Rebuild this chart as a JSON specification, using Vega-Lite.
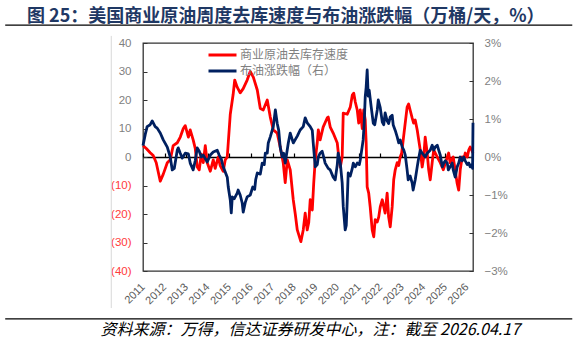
{
  "$schema": "https://vega.github.io/schema/vega-lite/v6.json",
  "width": 330,
  "height": 228,
  "autosize": {"type": "none"},
  "padding": {"left": 143, "top": 43, "right": 104, "bottom": 71},
  "background": "white",
  "config": {
    "view": {"stroke": "#333333", "strokeWidth": 1.3},
    "font": "Liberation Sans",
    "axis": {"grid": false}
  },
  "title": {
    "text": "图 25：美国商业原油周度去库速度与布油涨跌幅（万桶/天，%）",
    "anchor": "start",
    "frame": "group",
    "dx": -116,
    "offset": -2,
    "font": "Noto Sans CJK SC",
    "fontSize": 18,
    "fontWeight": "bold",
    "color": "#1f3864"
  },
  "datasets": {
    "stock": [
      {"date": "2011-01-01", "v": 4}, {"date": "2011-02-26", "v": 3}, {"date": "2011-05-03", "v": 1.5}, {"date": "2011-06-23", "v": 0.5},
      {"date": "2011-08-13", "v": -2}, {"date": "2011-10-20", "v": -8.5}, {"date": "2011-12-10", "v": -6}, {"date": "2012-02-16", "v": -2},
      {"date": "2012-04-06", "v": -1}, {"date": "2012-05-26", "v": 4}, {"date": "2012-08-03", "v": 5}, {"date": "2012-09-23", "v": 7},
      {"date": "2012-11-13", "v": 10}, {"date": "2012-12-16", "v": 11}, {"date": "2013-02-07", "v": 7}, {"date": "2013-03-10", "v": 9.5},
      {"date": "2013-04-29", "v": 6}, {"date": "2013-06-03", "v": 3}, {"date": "2013-07-07", "v": -3.5}, {"date": "2013-08-10", "v": -4.5},
      {"date": "2013-09-13", "v": 1}, {"date": "2013-10-17", "v": -2}, {"date": "2013-11-20", "v": 4}, {"date": "2013-12-23", "v": -2},
      {"date": "2014-02-13", "v": -5}, {"date": "2014-04-04", "v": -1}, {"date": "2014-05-07", "v": -4}, {"date": "2014-06-27", "v": 0},
      {"date": "2014-07-30", "v": -3}, {"date": "2014-09-20", "v": -5}, {"date": "2014-10-24", "v": -1}, {"date": "2014-11-27", "v": 0},
      {"date": "2015-01-17", "v": 15}, {"date": "2015-03-07", "v": 22}, {"date": "2015-04-02", "v": 27}, {"date": "2015-05-14", "v": 24.5},
      {"date": "2015-07-04", "v": 22.5}, {"date": "2015-08-24", "v": 24}, {"date": "2015-10-30", "v": 27}, {"date": "2015-12-21", "v": 30},
      {"date": "2016-02-11", "v": 28}, {"date": "2016-04-18", "v": 23.5}, {"date": "2016-06-08", "v": 17}, {"date": "2016-07-28", "v": 16.5},
      {"date": "2016-10-04", "v": 20}, {"date": "2016-11-24", "v": 14}, {"date": "2017-01-14", "v": 9.5}, {"date": "2017-03-21", "v": 8.4},
      {"date": "2017-05-11", "v": 3.5}, {"date": "2017-07-01", "v": -2}, {"date": "2017-08-04", "v": -9}, {"date": "2017-09-08", "v": -1},
      {"date": "2017-10-28", "v": -4.5}, {"date": "2017-12-18", "v": -15}, {"date": "2018-01-21", "v": -20}, {"date": "2018-02-24", "v": -25.6},
      {"date": "2018-04-26", "v": -29.7}, {"date": "2018-06-05", "v": -25.6}, {"date": "2018-07-08", "v": -19.7}, {"date": "2018-08-11", "v": -25.6},
      {"date": "2018-09-06", "v": -23}, {"date": "2018-10-01", "v": -15}, {"date": "2018-11-05", "v": -18.6}, {"date": "2018-11-29", "v": -9.3},
      {"date": "2018-12-25", "v": -1}, {"date": "2019-01-28", "v": 5}, {"date": "2019-02-15", "v": 9.5}, {"date": "2019-03-18", "v": 6},
      {"date": "2019-05-08", "v": 10.5}, {"date": "2019-07-15", "v": 13.7}, {"date": "2019-08-02", "v": 14}, {"date": "2019-09-05", "v": 10.5},
      {"date": "2019-10-25", "v": 8.4}, {"date": "2020-01-02", "v": 4.9}, {"date": "2020-01-27", "v": 0}, {"date": "2020-02-22", "v": -3.5},
      {"date": "2020-03-25", "v": 0}, {"date": "2020-04-12", "v": 15.4}, {"date": "2020-06-19", "v": 15}, {"date": "2020-08-09", "v": 17.5},
      {"date": "2020-09-12", "v": 21.7}, {"date": "2020-10-07", "v": 22.4}, {"date": "2020-11-02", "v": 19.3}, {"date": "2020-12-05", "v": 16.5},
      {"date": "2020-12-30", "v": 11.9}, {"date": "2021-01-25", "v": 16.5}, {"date": "2021-02-28", "v": 10}, {"date": "2021-03-24", "v": 16.5},
      {"date": "2021-04-19", "v": 13}, {"date": "2021-05-05", "v": 5}, {"date": "2021-05-22", "v": -10.5}, {"date": "2021-06-17", "v": -12.7},
      {"date": "2021-07-12", "v": -17.5}, {"date": "2021-08-15", "v": -25.6}, {"date": "2021-09-10", "v": -28}, {"date": "2021-10-05", "v": -22},
      {"date": "2021-11-09", "v": -22.8}, {"date": "2021-12-04", "v": -21}, {"date": "2021-12-29", "v": -17.5}, {"date": "2022-02-02", "v": -15},
      {"date": "2022-02-27", "v": -17.5}, {"date": "2022-03-22", "v": -19.7}, {"date": "2022-04-25", "v": -12.7}, {"date": "2022-05-20", "v": -21},
      {"date": "2022-06-16", "v": -24.5}, {"date": "2022-07-19", "v": -17.5}, {"date": "2022-08-14", "v": -8}, {"date": "2022-09-09", "v": -4.5},
      {"date": "2022-10-12", "v": -2}, {"date": "2022-11-07", "v": -3}, {"date": "2022-12-02", "v": 0}, {"date": "2022-12-27", "v": 1.4},
      {"date": "2023-01-22", "v": 6}, {"date": "2023-03-29", "v": 17.5}, {"date": "2023-04-24", "v": 18.6}, {"date": "2023-05-19", "v": 16.5},
      {"date": "2023-06-22", "v": 13.7}, {"date": "2023-07-17", "v": 11.9}, {"date": "2023-08-13", "v": 13}, {"date": "2023-09-16", "v": 9.5},
      {"date": "2023-10-11", "v": 6}, {"date": "2023-11-06", "v": 2.5}, {"date": "2023-12-09", "v": -3.5}, {"date": "2024-01-04", "v": 0},
      {"date": "2024-01-29", "v": 7}, {"date": "2024-03-03", "v": 1.4}, {"date": "2024-03-28", "v": -4.5}, {"date": "2024-04-23", "v": -8},
      {"date": "2024-05-26", "v": -2}, {"date": "2024-06-21", "v": 2.5}, {"date": "2024-08-20", "v": 0}, {"date": "2024-10-10", "v": -2},
      {"date": "2024-11-30", "v": -4.5}, {"date": "2025-02-06", "v": 0}, {"date": "2025-03-01", "v": 1.4}, {"date": "2025-03-26", "v": -2},
      {"date": "2025-05-17", "v": 0}, {"date": "2025-07-23", "v": -9.3}, {"date": "2025-08-18", "v": -11.6}, {"date": "2025-09-13", "v": -4.5},
      {"date": "2025-10-16", "v": 0}, {"date": "2025-11-11", "v": -1}, {"date": "2025-12-07", "v": 1.4}, {"date": "2026-01-10", "v": 0},
      {"date": "2026-02-05", "v": 2.5}, {"date": "2026-02-28", "v": 3.5}, {"date": "2026-04-17", "v": 1.4}
    ],
    "brent": [
      {"date": "2011-01-01", "v": 0.3}, {"date": "2011-02-09", "v": 0.6}, {"date": "2011-03-12", "v": 0.8}, {"date": "2011-05-03", "v": 0.85},
      {"date": "2011-06-06", "v": 0.95}, {"date": "2011-07-26", "v": 0.8}, {"date": "2011-08-29", "v": 0.76}, {"date": "2011-10-20", "v": 0.63},
      {"date": "2011-12-10", "v": 0.45}, {"date": "2012-02-16", "v": 0.26}, {"date": "2012-04-06", "v": 0}, {"date": "2012-05-10", "v": -0.34},
      {"date": "2012-06-13", "v": -0.3}, {"date": "2012-08-03", "v": 0.18}, {"date": "2012-08-20", "v": 0.24}, {"date": "2012-09-23", "v": 0.1},
      {"date": "2012-10-27", "v": -0.03}, {"date": "2012-12-16", "v": 0.1}, {"date": "2013-02-07", "v": 0.08}, {"date": "2013-03-10", "v": -0.16},
      {"date": "2013-04-29", "v": -0.34}, {"date": "2013-06-03", "v": -0.1}, {"date": "2013-07-07", "v": 0.24}, {"date": "2013-08-10", "v": 0.15},
      {"date": "2013-09-13", "v": 0}, {"date": "2013-10-17", "v": 0.05}, {"date": "2013-12-23", "v": -0.13}, {"date": "2014-02-13", "v": 0.05},
      {"date": "2014-04-04", "v": 0.13}, {"date": "2014-06-10", "v": 0.18}, {"date": "2014-07-13", "v": 0.05}, {"date": "2014-08-17", "v": -0.05},
      {"date": "2014-09-20", "v": -0.26}, {"date": "2014-11-27", "v": -0.53}, {"date": "2014-12-14", "v": -0.79}, {"date": "2015-01-17", "v": -1.13},
      {"date": "2015-02-03", "v": -1.47}, {"date": "2015-02-20", "v": -1.05}, {"date": "2015-03-24", "v": -1.1}, {"date": "2015-05-14", "v": -0.95},
      {"date": "2015-05-30", "v": -0.87}, {"date": "2015-07-04", "v": -1.0}, {"date": "2015-08-07", "v": -1.21}, {"date": "2015-08-24", "v": -1.45},
      {"date": "2015-09-27", "v": -1.2}, {"date": "2015-10-30", "v": -1.05}, {"date": "2015-12-21", "v": -1.0}, {"date": "2016-02-02", "v": -0.79},
      {"date": "2016-03-05", "v": -0.85}, {"date": "2016-03-22", "v": -0.6}, {"date": "2016-04-18", "v": -0.42}, {"date": "2016-06-08", "v": -0.45},
      {"date": "2016-07-11", "v": -0.16}, {"date": "2016-08-14", "v": -0.2}, {"date": "2016-09-01", "v": 0.1}, {"date": "2016-10-04", "v": 0.1},
      {"date": "2016-10-21", "v": 0.37}, {"date": "2016-11-24", "v": 0.53}, {"date": "2017-01-14", "v": 0.8}, {"date": "2017-02-18", "v": 1.24},
      {"date": "2017-03-21", "v": 0.89}, {"date": "2017-04-16", "v": 0.7}, {"date": "2017-05-11", "v": 0.26}, {"date": "2017-06-14", "v": 0},
      {"date": "2017-07-09", "v": 0.1}, {"date": "2017-08-04", "v": -0.16}, {"date": "2017-09-25", "v": 0.37}, {"date": "2017-10-28", "v": 0.63},
      {"date": "2017-12-18", "v": 0.37}, {"date": "2018-02-24", "v": 0.55}, {"date": "2018-04-14", "v": 0.71}, {"date": "2018-06-05", "v": 0.8},
      {"date": "2018-07-08", "v": 1.03}, {"date": "2018-08-11", "v": 0.9}, {"date": "2018-10-01", "v": 0.8}, {"date": "2018-11-05", "v": 0.7},
      {"date": "2018-11-21", "v": 0.37}, {"date": "2018-12-25", "v": -0.26}, {"date": "2019-01-28", "v": -0.2}, {"date": "2019-02-15", "v": 0},
      {"date": "2019-03-18", "v": 0.1}, {"date": "2019-04-21", "v": 0.15}, {"date": "2019-05-25", "v": -0.05}, {"date": "2019-06-11", "v": -0.16},
      {"date": "2019-08-02", "v": -0.3}, {"date": "2019-09-05", "v": -0.34}, {"date": "2019-10-25", "v": -0.53}, {"date": "2019-11-28", "v": -0.6},
      {"date": "2020-01-02", "v": -0.2}, {"date": "2020-01-18", "v": 0.1}, {"date": "2020-02-22", "v": -0.16}, {"date": "2020-03-25", "v": -0.68},
      {"date": "2020-04-12", "v": -1.3}, {"date": "2020-05-15", "v": -1.92}, {"date": "2020-06-02", "v": -1.8}, {"date": "2020-06-19", "v": -1.13},
      {"date": "2020-07-05", "v": -0.42}, {"date": "2020-08-09", "v": -0.5}, {"date": "2020-09-12", "v": -0.3}, {"date": "2020-09-29", "v": -0.16},
      {"date": "2020-11-02", "v": -0.26}, {"date": "2020-12-05", "v": -0.16}, {"date": "2021-01-09", "v": -0.2}, {"date": "2021-01-25", "v": -0.08},
      {"date": "2021-02-20", "v": 0.2}, {"date": "2021-03-15", "v": 0.45}, {"date": "2021-04-02", "v": 0.9}, {"date": "2021-04-19", "v": 1.58},
      {"date": "2021-05-05", "v": 1.84}, {"date": "2021-05-22", "v": 2.29}, {"date": "2021-06-09", "v": 1.6}, {"date": "2021-06-25", "v": 1.76},
      {"date": "2021-07-29", "v": 1.32}, {"date": "2021-09-02", "v": 0.89}, {"date": "2021-09-27", "v": 0.85}, {"date": "2021-11-09", "v": 1.24},
      {"date": "2021-11-26", "v": 1.5}, {"date": "2021-12-29", "v": 1.3}, {"date": "2022-02-02", "v": 0.92}, {"date": "2022-02-27", "v": 0.85},
      {"date": "2022-03-22", "v": 1.16}, {"date": "2022-04-25", "v": 0.95}, {"date": "2022-05-20", "v": 0.88}, {"date": "2022-06-16", "v": 1.05},
      {"date": "2022-07-19", "v": 1.1}, {"date": "2022-08-06", "v": 0.84}, {"date": "2022-09-09", "v": 0.7}, {"date": "2022-10-12", "v": 0.53},
      {"date": "2022-11-07", "v": 0.37}, {"date": "2022-12-02", "v": 0.45}, {"date": "2023-01-06", "v": 0.26}, {"date": "2023-02-01", "v": 0.18},
      {"date": "2023-02-26", "v": 0.05}, {"date": "2023-03-29", "v": -0.34}, {"date": "2023-04-16", "v": -0.6}, {"date": "2023-05-19", "v": -0.5},
      {"date": "2023-06-22", "v": -0.68}, {"date": "2023-07-09", "v": -0.87}, {"date": "2023-08-13", "v": -0.6}, {"date": "2023-09-16", "v": -0.26},
      {"date": "2023-10-03", "v": -0.1}, {"date": "2023-11-06", "v": 0.18}, {"date": "2023-12-09", "v": 0.1}, {"date": "2024-01-04", "v": 0.05},
      {"date": "2024-01-29", "v": 0}, {"date": "2024-03-03", "v": 0.1}, {"date": "2024-04-23", "v": 0.18}, {"date": "2024-05-26", "v": 0.31},
      {"date": "2024-06-21", "v": 0.18}, {"date": "2024-07-16", "v": 0.26}, {"date": "2024-08-20", "v": 0.31}, {"date": "2024-09-14", "v": 0.18},
      {"date": "2024-10-10", "v": 0.05}, {"date": "2024-11-13", "v": -0.26}, {"date": "2024-12-08", "v": -0.16}, {"date": "2025-01-03", "v": -0.1},
      {"date": "2025-02-06", "v": -0.16}, {"date": "2025-02-23", "v": -0.34}, {"date": "2025-03-26", "v": -0.26}, {"date": "2025-04-30", "v": -0.16},
      {"date": "2025-05-17", "v": -0.34}, {"date": "2025-06-20", "v": -0.53}, {"date": "2025-07-23", "v": -0.26}, {"date": "2025-08-18", "v": -0.16},
      {"date": "2025-09-13", "v": 0}, {"date": "2025-10-16", "v": -0.1}, {"date": "2025-11-11", "v": 0}, {"date": "2025-12-07", "v": -0.1},
      {"date": "2026-01-10", "v": -0.2}, {"date": "2026-02-05", "v": -0.16}, {"date": "2026-02-28", "v": -0.26}, {"date": "2026-03-25", "v": -0.2},
      {"date": "2026-04-10", "v": -0.3}, {"date": "2026-04-17", "v": 0.9}
    ]
  },
  "layer": [
    {
      "data": {"values": [{}]},
      "mark": {"type": "rule", "stroke": "#d9d9d9", "strokeWidth": 1},
      "encoding": {
        "x": {"datum": {"year": 2009, "month": 7, "date": 13, "utc": true}, "type": "temporal", "axis": null,
              "scale": {"domain": [{"year": 2011, "month": 1, "date": 1, "utc": true}, {"year": 2026, "month": 4, "date": 17, "utc": true}]}},
        "y": {"datum": 42.5, "type": "quantitative", "axis": null, "scale": {"domain": [-40, 40], "nice": false, "zero": false}},
        "y2": {"datum": -53}
      }
    },
    {
      "data": {"values": [{}]},
      "mark": {"type": "rule", "stroke": "#000000", "strokeWidth": 1.2},
      "encoding": {
        "x": {"datum": {"year": 2004, "month": 8, "date": 13, "utc": true}, "type": "temporal", "axis": null},
        "x2": {"datum": {"year": 2030, "month": 11, "date": 22, "utc": true}},
        "y": {"datum": 46.3, "type": "quantitative", "axis": null, "scale": {"domain": [-40, 40], "nice": false, "zero": false}}
      }
    },
    {
      "data": {"values": [{}]},
      "mark": {"type": "rule", "stroke": "#000000", "strokeWidth": 1.2},
      "encoding": {
        "x": {"datum": {"year": 2004, "month": 8, "date": 13, "utc": true}, "type": "temporal", "axis": null},
        "x2": {"datum": {"year": 2030, "month": 11, "date": 22, "utc": true}},
        "y": {"datum": -56.8, "type": "quantitative", "axis": null, "scale": {"domain": [-40, 40], "nice": false, "zero": false}}
      }
    },
    {
      "data": {"name": "stock"},
      "mark": {"type": "line", "strokeWidth": 2.8, "strokeJoin": "round"},
      "encoding": {
        "x": {
          "field": "date", "type": "temporal",
          "axis": {
            "orient": "bottom", "domain": false, "ticks": false, "format": "%Y",
            "tickCount": {"interval": "year", "step": 1},
            "labelAngle": -45, "labelAlign": "right", "labelBaseline": "middle",
            "labelPadding": 14, "labelFontSize": 11, "labelColor": "#595959", "labelFont": "Liberation Sans",
            "labelFlush": false, "labelOverlap": false,
            "title": "资料来源：万得，信达证券研发中心，注：截至 2026.04.17",
            "titleFont": "Noto Sans CJK SC", "titleFontSize": 16, "titleFontStyle": "italic", "titleFontWeight": "normal",
            "titleColor": "#000000", "titleAnchor": "start", "titleAlign": "left", "titleBaseline": "middle",
            "titleX": -43, "titleY": 58
          }
        },
        "y": {
          "field": "v", "type": "quantitative",
          "scale": {"domain": [-40, 40], "nice": false, "zero": false},
          "axis": {
            "orient": "left", "title": null, "domain": false,
            "values": [-40, -30, -20, -10, 0, 10, 20, 30, 40],
            "labelExpr": "datum.value < 0 ? '(' + format(-datum.value, 'd') + ')' : format(datum.value, 'd')",
            "labelColor": {"condition": {"test": "datum.value < 0", "value": "#ff3b3b"}, "value": "#7f7f7f"},
            "labelFontSize": 11.5, "labelFont": "Liberation Sans",
            "tickSize": -4, "tickColor": "#333333", "labelPadding": 16
          }
        },
        "color": {
          "datum": "商业原油去库存速度",
          "scale": {"domain": ["商业原油去库存速度", "布油涨跌幅（右）"], "range": ["#ff0000", "#002060"]},
          "legend": {
            "orient": "none", "legendX": 64, "legendY": 5, "title": null,
            "symbolType": "stroke", "symbolSize": 784, "symbolStrokeWidth": 3,
            "clipHeight": 14, "rowPadding": 2, "labelOffset": 2,
            "labelFont": "Noto Sans CJK SC", "labelFontSize": 12, "labelColor": "#7f7f7f"
          }
        }
      }
    },
    {
      "data": {"name": "brent"},
      "mark": {"type": "line", "strokeWidth": 2.8, "strokeJoin": "round"},
      "encoding": {
        "x": {
          "field": "date", "type": "temporal",
          "axis": {
            "orient": "top", "offset": -114, "labels": false, "title": null,
            "domain": true, "domainColor": "#000000", "domainWidth": 1.3,
            "ticks": true, "tickSize": 4, "tickColor": "#000000", "tickWidth": 1.2,
            "tickCount": {"interval": "year", "step": 1}
          }
        },
        "y": {
          "field": "v", "type": "quantitative",
          "scale": {"domain": [-3, 3], "nice": false, "zero": false},
          "axis": {
            "orient": "right", "title": null, "domain": false,
            "values": [-3, -2, -1, 0, 1, 2, 3],
            "labelExpr": "format(datum.value, 'd') + '%'",
            "labelColor": "#7f7f7f", "labelFontSize": 11.5, "labelFont": "Liberation Sans",
            "tickSize": -4, "tickColor": "#333333", "labelPadding": 15
          }
        },
        "color": {"datum": "布油涨跌幅（右）"}
      }
    }
  ],
  "resolve": {"scale": {"y": "independent"}, "axis": {"x": "independent", "y": "independent"}}
}
